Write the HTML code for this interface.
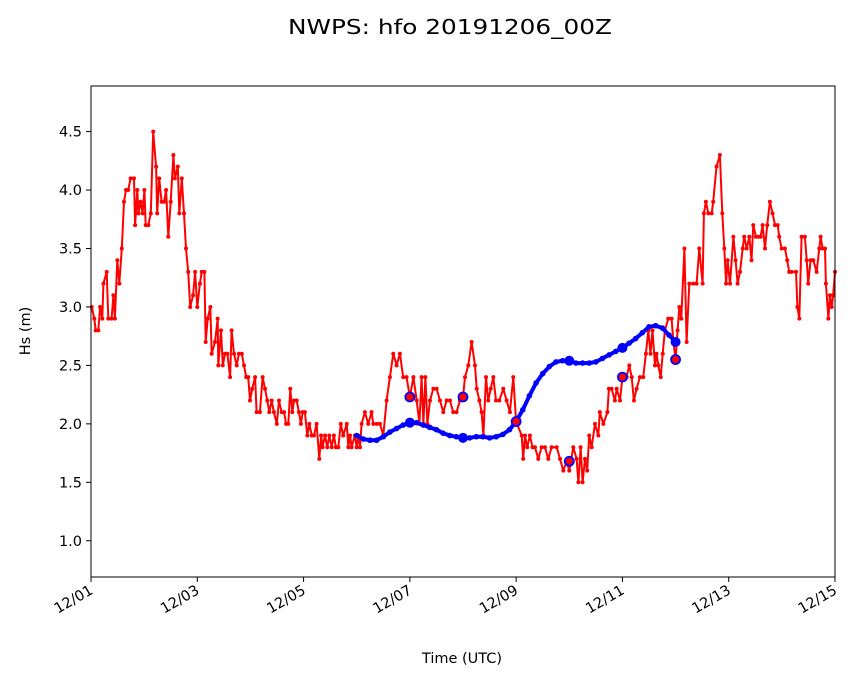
<!DOCTYPE html>
<html><head><meta charset="utf-8"><style>
body{margin:0;background:#fff;}
svg text{font-family:"DejaVu Sans","Liberation Sans",sans-serif;fill:#000;}
</style></head><body>
<svg id="chart" width="853" height="681" viewBox="0 0 853 681" xmlns="http://www.w3.org/2000/svg">
<rect width="853" height="681" fill="#fff"/>
<text x="450" y="34" font-size="20" text-anchor="middle" textLength="324" lengthAdjust="spacingAndGlyphs">NWPS: hfo 20191206_00Z</text>
<g id="plot"></g>
<text x="462" y="663" font-size="14.5" text-anchor="middle">Time (UTC)</text>
<text transform="translate(30,331) rotate(-90)" font-size="14.5" text-anchor="middle">Hs (m)</text>
</svg>
<script>
// observed data: hours since 12/01 00Z and Hs (m)
const obsHours = [0.3,1.5,2.1,3.3,4.1,5.1,5.6,7.1,7.8,9.3,10.1,10.8,11.9,12.8,13.9,14.9,15.8,16.8,17.9,19.4,19.9,20.9,21.4,22.4,23.3,24.1,24.7,25.9,27.0,28.1,29.4,29.9,30.8,31.9,33.0,33.9,34.9,36.0,37.2,37.9,39.2,39.9,41.0,42.0,42.9,43.9,44.8,46.1,47.0,48.0,49.2,50.0,51.2,51.8,52.7,53.9,54.5,56.0,57.2,57.5,58.7,59.5,60.5,61.6,62.8,63.5,64.6,65.8,66.8,68.1,69.1,70.1,71.0,71.8,72.8,74.1,74.8,76.3,77.5,78.6,79.6,80.5,81.6,82.6,83.9,84.9,86.1,87.2,88.1,89.1,90.0,90.9,91.7,92.9,93.9,94.8,95.6,96.6,97.7,98.6,99.7,100.7,101.9,103.1,103.9,104.6,105.7,106.7,107.6,108.7,109.7,110.6,111.7,112.8,113.9,
115.5,116.2,117.0,117.7,119.2,120.0,120.7,121.5,122.2,123.7,125.2,126.7,127.5,129.0,130.5,132.0,133.5,135.0,136.5,138.0,139.5,141.0,142.5,144.0,145.6,147.1,148.3,149.3,150.1,151.0,151.9,153.1,154.6,156.1,157.6,159.1,160.6,162.1,163.6,165.1,166.6,168.0,168.9,170.4,171.9,173.4,174.2,175.4,176.4,177.2,178.4,179.4,180.5,181.7,182.9,184.4,186.2,187.7,189.2,190.7,192.0,194.5,195.2,196.0,197.0,198.2,199.4,200.5,202.0,203.5,205.0,206.5,208.0,210.3,211.8,213.3,214.8,216.0,217.8,219.3,220.1,221.1,222.0,223.1,224.1,225.0,226.1,227.6,229.1,229.8,
231.4,233.2,233.9,235.1,236.6,237.4,238.9,240.0,241.9,243.1,244.2,245.2,246.4,247.9,249.4,250.6,251.7,252.7,253.6,254.7,255.4,256.2,257.3,258.2,259.2,260.7,262.2,263.0,264.0,264.9,265.7,266.6,268.0,269.0,270.2,272.0,273.5,274.7,276.2,276.8,277.7,278.8,280.3,281.0,282.5,284.0,285.1,286.0,286.8,287.5,288.6,290.1,291.1,292.0,293.1,294.3,295.0,296.1,297.3,298.3,299.1,300.3,301.4,302.4,303.3,304.4,305.4,306.6,307.8,308.9,310.1,310.8,311.9,313.4,314.4,315.3,316.4,318.4,319.0,319.9,320.9,322.4,323.2,323.9,325.0,326.2,327.7,328.9,329.5,330.4,331.5,331.9,333.0,333.7,334.5,335.2,336.0];
const obsHs = [3.0,2.9,2.8,2.8,3.0,2.9,3.2,3.3,2.9,2.9,3.1,2.9,3.4,3.2,3.5,3.9,4.0,4.0,4.1,4.1,3.7,4.0,3.8,3.9,3.8,4.0,3.7,3.7,3.8,4.5,4.2,3.8,4.1,3.9,3.9,4.0,3.6,3.9,4.3,4.1,4.2,3.8,4.1,3.8,3.5,3.3,3.0,3.1,3.3,3.0,3.2,3.3,3.3,2.7,2.9,3.0,2.6,2.7,2.9,2.5,2.8,2.5,2.6,2.6,2.4,2.8,2.6,2.5,2.6,2.6,2.5,2.4,2.4,2.2,2.3,2.4,2.1,2.1,2.4,2.3,2.2,2.1,2.2,2.1,2.0,2.2,2.1,2.1,2.0,2.0,2.3,2.1,2.2,2.2,2.1,2.0,2.1,2.1,1.9,2.0,1.9,1.9,2.0,1.7,1.9,1.8,1.9,1.8,1.9,1.8,1.9,1.8,1.8,2.0,1.9,
2.0,1.8,1.9,1.8,1.9,1.8,1.9,1.8,2.0,2.1,2.0,2.1,2.0,2.0,2.0,1.9,2.2,2.4,2.6,2.5,2.6,2.4,2.4,2.23,2.4,2.2,2.0,2.4,2.0,2.4,2.0,2.2,2.3,2.3,2.2,2.1,2.2,2.2,2.1,2.1,2.2,2.23,2.4,2.5,2.7,2.5,2.3,2.2,2.1,1.9,2.4,2.2,2.3,2.4,2.2,2.2,2.3,2.2,2.1,2.4,2.02,1.9,1.7,1.9,1.8,1.9,1.8,1.8,1.7,1.8,1.8,1.7,1.8,1.8,1.7,1.6,1.68,1.6,1.8,1.7,1.5,1.8,1.5,1.7,1.6,1.9,1.8,2.0,1.9,2.1,
2.0,2.1,2.3,2.3,2.2,2.3,2.2,2.4,2.4,2.5,2.4,2.2,2.3,2.4,2.4,2.6,2.8,2.6,2.8,2.5,2.6,2.5,2.4,2.6,2.8,2.9,2.9,2.7,2.55,2.8,3.0,2.9,3.5,2.7,3.2,3.2,3.2,3.5,3.2,3.8,3.9,3.8,3.8,3.9,4.2,4.3,3.8,3.5,3.2,3.4,3.2,3.6,3.4,3.2,3.3,3.5,3.6,3.5,3.6,3.4,3.7,3.6,3.6,3.6,3.7,3.5,3.7,3.9,3.8,3.7,3.7,3.6,3.5,3.5,3.4,3.3,3.3,3.3,3.0,2.9,3.6,3.6,3.4,3.2,3.4,3.4,3.3,3.5,3.6,3.5,3.5,3.2,2.9,3.1,3.0,3.1,3.3];
// model data (every 3 h from 12/06 00Z)
const modelHours = [120,123,126,129,132,135,138,141,144,147,150,153,156,159,162,165,168,171,174,177,180,183,186,189,192,195,198,201,204,207,210,213,216,219,222,225,228,231,234,237,240,243,246,249,252,255,258,261,264];
const modelHs = [1.90,1.87,1.86,1.86,1.89,1.93,1.96,1.99,2.01,2.01,1.99,1.97,1.95,1.92,1.90,1.89,1.88,1.88,1.89,1.89,1.88,1.89,1.91,1.95,2.02,2.12,2.24,2.35,2.43,2.49,2.53,2.54,2.54,2.52,2.52,2.52,2.53,2.56,2.59,2.62,2.65,2.69,2.73,2.78,2.83,2.84,2.82,2.76,2.70];
// daily matchup points
const matchHours = [144,168,192,216,240,264];
const matchModel = [2.01,1.88,2.02,2.54,2.65,2.70];
const matchObs = [2.23,2.23,2.02,1.68,2.40,2.55];
const yTicks = [1.0,1.5,2.0,2.5,3.0,3.5,4.0,4.5];
const yTickLabels = ["1.0","1.5","2.0","2.5","3.0","3.5","4.0","4.5"];
const xTickDays = [0,2,4,6,8,10,12,14];
const xTickLabels = ["12/01","12/03","12/05","12/07","12/09","12/11","12/13","12/15"];

const L=91,R=835,T=86,B=577, hMax=336, yMin=0.69, yMax=4.89;
const xs = h => L + (h/hMax)*(R-L);
const ys = v => B - (v-yMin)/(yMax-yMin)*(B-T);
const NS="http://www.w3.org/2000/svg";
const plot=document.getElementById('plot');
function mk(tag,attrs){const e=document.createElementNS(NS,tag);for(const k in attrs)e.setAttribute(k,attrs[k]);plot.appendChild(e);return e;}

yTicks.forEach((v,i)=>{
  const t=mk('line',{x1:L-5,x2:L,y1:ys(v),y2:ys(v),stroke:'#000','stroke-width':1});
  
  
  const tx=mk('text',{x:L-9,y:ys(v)+5,'font-size':14.5,'text-anchor':'end'});
  tx.textContent=yTickLabels[i];
  
  
});
xTickDays.forEach((d,i)=>{
  const x=xs(d*24);
  const t=mk('line',{x1:x,x2:x,y1:B,y2:B+5,stroke:'#000','stroke-width':1});
  
  
  const tx=mk('text',{transform:`translate(${x+3},${B+16}) rotate(-30)`,'font-size':14.5,'text-anchor':'end'});
  tx.textContent=xTickLabels[i];
  
  
});

const obsPts=obsHours.map((h,i)=>xs(h).toFixed(1)+','+ys(obsHs[i]).toFixed(1)).join(' ');
const ol=mk('polyline',{points:obsPts,fill:'none',stroke:'#ff0000','stroke-width':2,'stroke-linejoin':'round'});


obsHours.forEach((h,i)=>{
  const c=mk('circle',{cx:xs(h),cy:ys(obsHs[i]),r:2,fill:'#ff0000'});
  
  
});
const modPts=modelHours.map((h,i)=>xs(h).toFixed(1)+','+ys(modelHs[i]).toFixed(1)).join(' ');
const ml=mk('polyline',{points:modPts,fill:'none',stroke:'#0000ff','stroke-width':4,'stroke-linejoin':'round'});


modelHours.forEach((h,i)=>{
  const c=mk('circle',{cx:xs(h),cy:ys(modelHs[i]),r:2.8,fill:'#0000ff'});
  
  
});
matchHours.forEach((h,i)=>{
  const c=mk('circle',{cx:xs(h),cy:ys(matchModel[i]),r:5,fill:'#0000ff'});
  
  
  const o=mk('circle',{cx:xs(h),cy:ys(matchObs[i]),r:4.5,fill:'#ff0000',stroke:'#0000ff','stroke-width':1.8});
  
  
});
const f=mk('rect',{x:L,y:T,width:R-L,height:B-T,fill:'none',stroke:'#000','stroke-width':1});


</script>
</body></html>
